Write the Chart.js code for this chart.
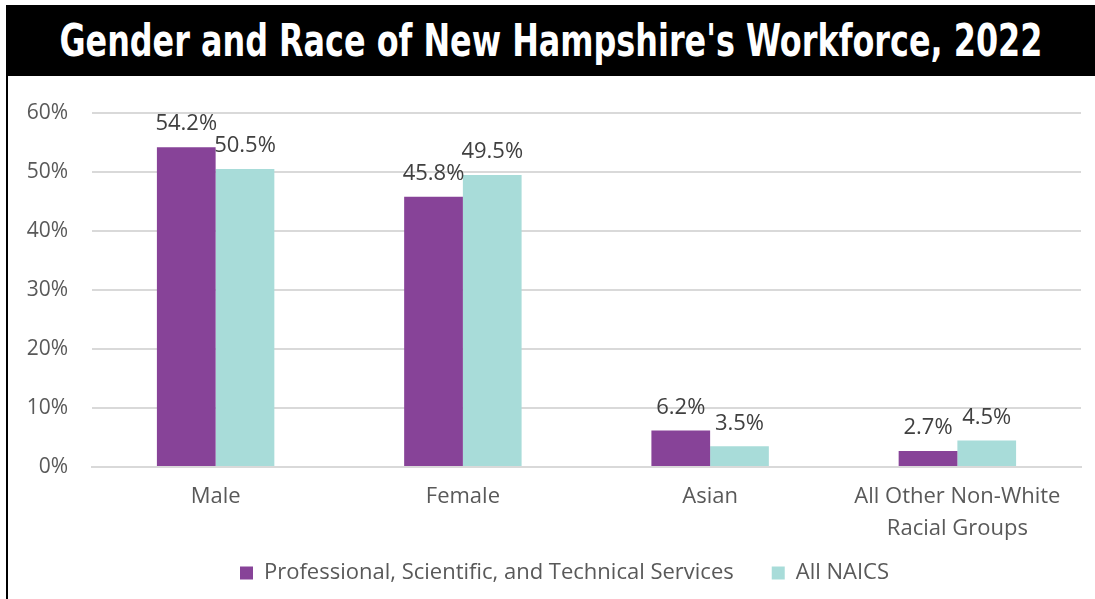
<!DOCTYPE html>
<html>
<head>
<meta charset="utf-8">
<script src="https://cdn.jsdelivr.net/npm/chart.js@4.4.1/dist/chart.umd.min.js"></script>
<style>
  html, body { margin: 0; padding: 0; background: #fff; }
  #wrap { position: relative; width: 1095px; height: 599px; overflow: hidden; }
  #banner { position: absolute; left: 6px; top: 5px; width: 1089px; height: 71px; background: #000;
    text-align: center; white-space: nowrap; overflow: hidden; }
  #title { display: inline-block; color: #fff; font-family: "DejaVu Sans Condensed", "DejaVu Sans", sans-serif;
    font-stretch: condensed; font-weight: bold; font-size: 44px; line-height: 71px; transform-origin: center center; }
  #border { position: absolute; left: 6px; top: 76px; width: 2px; height: 523px; background: #000; }
  #c { position: absolute; left: 0; top: 0; }
</style>
</head>
<body>
<div id="wrap">
  <div id="banner"><span id="title">Gender and Race of New Hampshire's Workforce, 2022</span></div>
  <div id="border"></div>
  <canvas id="c" width="1095" height="599"></canvas>
</div>
<script>
const categories = ["Male", "Female", "Asian", ["All Other Non-White", "Racial Groups"]];
const seriesNames = ["Professional, Scientific, and Technical Services", "All NAICS"];
const profSciTech = [54.2, 45.8, 6.2, 2.7];
const allNaics = [50.5, 49.5, 3.5, 4.5];
const yTicks = [0, 10, 20, 30, 40, 50, 60];

// fit title width to the reference banner text width
(function () {
  const t = document.getElementById('title');
  const w = t.getBoundingClientRect().width;
  const target = 983;
  t.style.transform = 'scaleX(' + (target / w) + ')';
  t.style.marginLeft = t.style.marginRight = ((target - w) / 2) + 'px';
})();

const FONT = "'Open Sans', 'Noto Sans', sans-serif";
const LEGEND_PAD = 38;
const LEGEND_TEXT_CENTER_Y = 573;

const valueLabels = {
  id: 'valueLabels',
  beforeLayout(chart) {
    const lg = chart.legend;
    if (lg && !lg._fitPatched) {
      const orig = lg.fit.bind(lg);
      lg.fit = function () { orig(); this.height = 32; };
      lg._fitPatched = true;
    }
  },
  afterLayout(chart) {
    const lg = chart.legend;
    if (lg) {
      lg.left += 24; lg.right += 24;
      const top = LEGEND_TEXT_CENTER_Y - LEGEND_PAD - 11;
      lg.top = top;
      lg.bottom = chart.height;
      lg.height = lg.bottom - lg.top;
    }
  },
  afterDatasetsDraw(chart) {
    const ctx = chart.ctx;
    ctx.save();
    ctx.font = "22px " + FONT;
    ctx.fillStyle = '#404040';
    ctx.textAlign = 'center';
    ctx.textBaseline = 'bottom';
    chart.data.datasets.forEach((ds, i) => {
      chart.getDatasetMeta(i).data.forEach((bar, j) => {
        ctx.fillText(ds.data[j].toFixed(1) + '%', bar.x, bar.y - 12);
      });
    });
    ctx.restore();
  }
};

new Chart(document.getElementById('c'), {
  type: 'bar',
  data: {
    labels: categories,
    datasets: [
      { label: seriesNames[0], data: profSciTech, backgroundColor: '#874398' },
      { label: seriesNames[1], data: allNaics, backgroundColor: '#A8DCD9' }
    ]
  },
  options: {
    responsive: false,
    animation: false,
    devicePixelRatio: 1,
    layout: { padding: { top: 113, right: 14, left: 0, bottom: 23 } },
    datasets: { bar: { categoryPercentage: 0.475, barPercentage: 1.0 } },
    plugins: {
      legend: {
        position: 'bottom',
        labels: {
          font: { family: FONT, size: 22 },
          color: '#595959',
          boxWidth: 13, boxHeight: 13, padding: LEGEND_PAD
        }
      },
      tooltip: { enabled: false },
      title: { display: false }
    },
    scales: {
      x: {
        grid: { display: false, drawTicks: false },
        border: { display: true, color: '#D9D9D9', width: 2 },
        ticks: { font: { family: FONT, size: 22, lineHeight: 1.45 }, color: '#595959', padding: 14, maxRotation: 0 },
        afterFit(scale) { scale.height = 77; }
      },
      y: {
        min: 0, max: 60,
        afterBuildTicks(scale) { scale.ticks = yTicks.map(v => ({ value: v })); },
        grid: { color: '#D9D9D9', lineWidth: 2, drawTicks: false },
        border: { display: false },
        ticks: { font: { family: FONT, size: 21 }, color: '#595959', padding: 24, callback: v => v + '%' },
        afterFit(scale) { scale.width = 92; }
      }
    }
  },
  plugins: [valueLabels]
});
</script>
</body>
</html>
